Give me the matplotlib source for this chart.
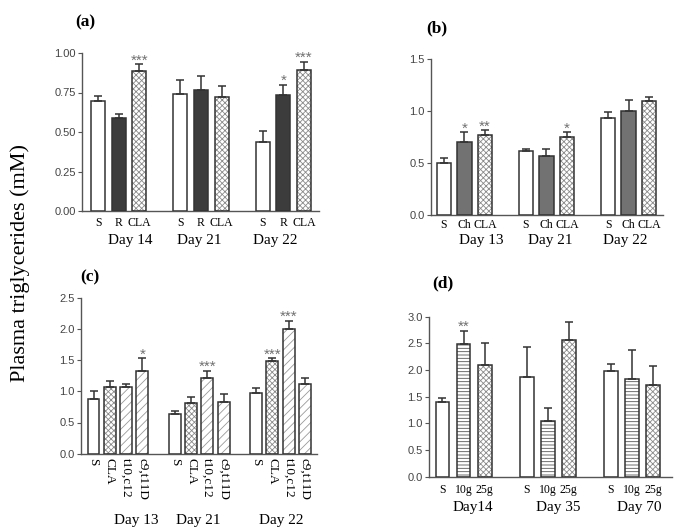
import matplotlib
matplotlib.use('Agg')
import matplotlib.pyplot as plt
import numpy as np

plt.rcParams['hatch.linewidth'] = 0.6

# ---------------- data ----------------
a_days = ['Day 14', 'Day 21', 'Day 22']
a_groups = ['S', 'R', 'CLA']
a_means = [[0.697, 0.587, 0.888], [0.742, 0.767, 0.722], [0.434, 0.735, 0.890]]
a_err = [[0.034, 0.025, 0.042], [0.086, 0.089, 0.066], [0.072, 0.064, 0.055]]
a_sig = [['', '', '***'], ['', '', ''], ['', '*', '***']]
a_ticks = [0.00, 0.25, 0.50, 0.75, 1.00]

b_days = ['Day 13', 'Day 21', 'Day 22']
b_groups = ['S', 'Ch', 'CLA']
b_means = [[0.497, 0.706, 0.768], [0.613, 0.568, 0.748], [0.934, 0.998, 1.098]]
b_err = [[0.048, 0.094, 0.048], [0.022, 0.067, 0.052], [0.056, 0.110, 0.039]]
b_sig = [['', '*', '**'], ['', '', '*'], ['', '', '']]
b_ticks = [0.0, 0.5, 1.0, 1.5]

c_days = ['Day 13', 'Day 21', 'Day 22']
c_groups = ['S', 'CLA', 't10,c12', 'c9,t11D']
c_means = [[0.876, 1.074, 1.074, 1.330], [0.630, 0.817, 1.207, 0.823],
           [0.967, 1.485, 1.993, 1.111]]
c_err = [[0.123, 0.085, 0.046, 0.198], [0.048, 0.086, 0.123, 0.139],
         [0.080, 0.048, 0.138, 0.096]]
c_sig = [['', '', '', '*'], ['', '', '***', ''], ['', '***', '***', '']]
c_ticks = [0.0, 0.5, 1.0, 1.5, 2.0, 2.5]

d_days = ['Day14', 'Day 35', 'Day 70']
d_groups = ['S', '10g', '25g']
d_means = [[1.406, 2.480, 2.100], [1.875, 1.044, 2.560], [1.975, 1.825, 1.720]]
d_err = [[0.063, 0.260, 0.400], [0.555, 0.236, 0.346], [0.131, 0.544, 0.360]]
d_sig = [['', '**', ''], ['', '', ''], ['', '', '']]
d_ticks = [0.0, 0.5, 1.0, 1.5, 2.0, 2.5, 3.0]

# ---------------- styles ----------------
EDGE = '#333333'
AX = '#555555'
SERIF = ['Liberation Serif', 'DejaVu Serif']
SANS = ['Liberation Sans', 'DejaVu Sans']

# (facecolor, hatch, hatchcolor)
styles = {
    'white': ('white', None, None),
    'dark': ('#3c3c3c', None, None),
    'mid': ('#727272', None, None),
    'cross': ('white', 'xxxxxx', '#8a8a8a'),
    'diag': ('white', '////', '#9a9a9a'),
    'horiz': ('white', '-----', '#555555'),
}

W, H = 685, 532
fig = plt.figure(figsize=(W / 100, H / 100), dpi=100)


def add_ax(l, r, t, b):
    return fig.add_axes([l / W, 1 - b / H, (r - l) / W, (b - t) / H])


def panel(ax, days, groups, means, errs, sigs, ticks, step, xlim, width,
          bar_styles, cat_off, day_off, day_shift, rot=False, cat_fs=8.5):
    n = len(groups)
    for g in range(len(days)):
        for i in range(n):
            x = g * step + i
            m = means[g][i]
            e = errs[g][i]
            fc, hatch, hc = styles[bar_styles[i]]
            if hatch:
                ax.bar(x, m, width, color='white', edgecolor=hc, hatch=hatch,
                       linewidth=0, zorder=2)
                ax.bar(x, m, width, fill=False, edgecolor=EDGE, linewidth=1.1,
                       zorder=3)
            else:
                ax.bar(x, m, width, color=fc, edgecolor=EDGE, linewidth=1.1,
                       zorder=3)
            ax.errorbar(x, m, yerr=[[0], [e]], fmt='none', ecolor=EDGE,
                        elinewidth=1.1, capsize=2.6, capthick=1.1, zorder=4)
            if sigs[g][i]:
                ax.annotate(sigs[g][i], (x, m + e), xytext=(0, -2.5),
                            textcoords='offset points', ha='center',
                            va='bottom', fontsize=11, color='#707070',
                            family=SANS, annotation_clip=False)
            # category label
            if rot:
                ax.annotate(groups[i], (x, 0), xycoords=('data', 'axes fraction'),
                            xytext=(0, -cat_off), textcoords='offset points',
                            ha='center', va='top', rotation=270, fontsize=cat_fs,
                            family=SERIF)
            else:
                ax.annotate(groups[i], (x, 0), xycoords=('data', 'axes fraction'),
                            xytext=(0, -cat_off), textcoords='offset points',
                            ha='center', va='center', fontsize=cat_fs,
                            family=SERIF)
        gc = g * step + (n - 1) / 2 + day_shift[g]
        ax.annotate(days[g], (gc, 0), xycoords=('data', 'axes fraction'),
                    xytext=(0, -day_off), textcoords='offset points',
                    ha='center', va='center', fontsize=11, family=SERIF)
    ax.set_xlim(*xlim)
    ax.set_ylim(0, ticks[-1])
    ax.set_yticks(ticks)
    ax.set_yticklabels([f'{t:.2f}' if ticks[1] == 0.25 else f'{t:.1f}' for t in ticks],
                       family=SANS, fontsize=8, color='#444444')
    ax.set_xticks([])
    ax.tick_params(axis='y', direction='out', length=3, width=0.8, color=AX, pad=1.5)
    for s in ['top', 'right']:
        ax.spines[s].set_visible(False)
    for s in ['left', 'bottom']:
        ax.spines[s].set_color(AX)
        ax.spines[s].set_linewidth(1.0)
    ax.patch.set_alpha(0)


ax_a = add_ax(82, 319, 53, 211)
panel(ax_a, a_days, a_groups, a_means, a_err, a_sig, a_ticks, 4, (-0.78, 10.73), 0.68,
      ['white', 'dark', 'cross'], 8.5, 21.5, [0.58, -0.1, -0.39])

ax_b = add_ax(431, 663, 59.3, 215)
panel(ax_b, b_days, b_groups, b_means, b_err, b_sig, b_ticks, 4, (-0.63, 10.68), 0.7,
      ['white', 'mid', 'cross'], 7, 18.5, [0.83, 0.2, -0.15])

ax_c = add_ax(81, 317, 297.7, 453.7)
panel(ax_c, c_days, c_groups, c_means, c_err, c_sig, c_ticks, 5, (-0.77, 13.74), 0.73,
      ['white', 'cross', 'diag', 'diag'], 3, 48, [1.13, -0.09, 0.06], rot=True,
      cat_fs=9.5)

ax_d = add_ax(429, 672, 316.7, 476.7)
panel(ax_d, d_days, d_groups, d_means, d_err, d_sig, d_ticks, 4, (-0.64, 10.9), 0.66,
      ['white', 'horiz', 'cross'], 9.5, 22, [0.43, 0.48, 0.33])

# panel letters
for txt, x, y in [('(a)', 85, 22), ('(b)', 437, 28), ('(c)', 90, 277), ('(d)', 443, 283)]:
    fig.text(x / W, 1 - y / H, txt, ha='center', va='center', fontsize=12.5,
             fontweight='bold', family=SERIF)

fig.text(20 / W, 1 - 263 / H, 'Plasma triglycerides (mM)', rotation=90,
         ha='center', va='center', fontsize=16, family=SERIF)

fig.savefig('out.png', dpi=100)
